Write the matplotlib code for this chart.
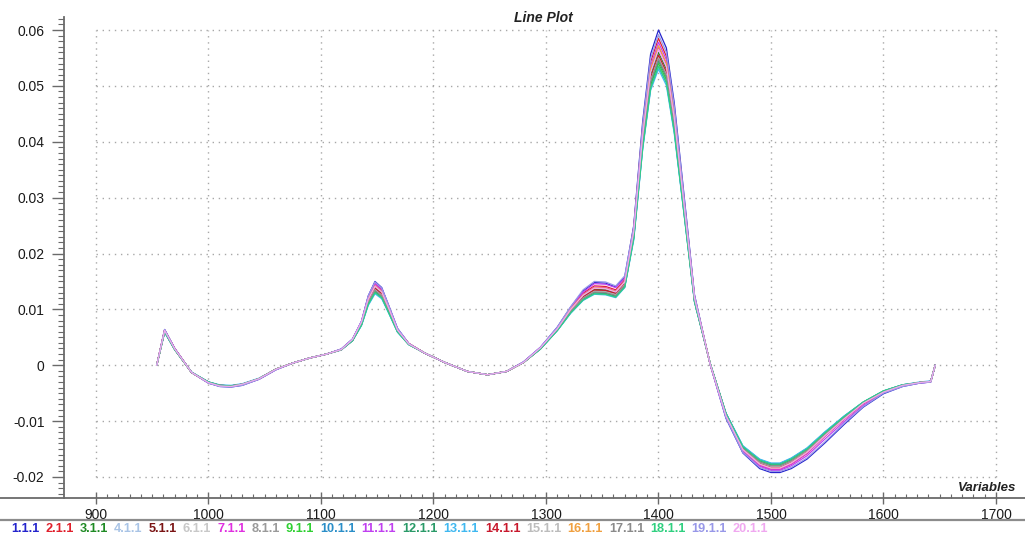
import matplotlib
matplotlib.use("Agg")
import matplotlib.pyplot as plt
from matplotlib.lines import Line2D
from matplotlib.ticker import FixedLocator, MultipleLocator

plt.rcParams['font.family'] = ['Liberation Sans', 'DejaVu Sans']
plt.rcParams['axes.unicode_minus'] = False

# Wavelength grid shared by every spectrum
variables = [954, 961, 970, 985, 1000, 1010, 1020, 1030, 1045, 1060,
             1075, 1090, 1105, 1118, 1128, 1136, 1142, 1148, 1154, 1160,
             1168, 1178, 1192, 1210, 1230, 1248, 1265, 1280, 1295, 1310,
             1322, 1333, 1343, 1353, 1362, 1370, 1378, 1386, 1393, 1400,
             1407, 1414, 1422, 1432, 1446, 1460, 1475, 1490, 1500, 1508,
             1518, 1532, 1548, 1565, 1582, 1600, 1617, 1632, 1642, 1646]

s1 = [0.0000, 0.0064, 0.0030, -0.0013, -0.0032, -0.0038, -0.0039, -0.0036, -0.0025, -0.0008,
      0.0004, 0.0013, 0.0020, 0.0029, 0.0047, 0.0078, 0.0124, 0.0150, 0.0139, 0.0108,
      0.0066, 0.0039, 0.0022, 0.0005, -0.0011, -0.0017, -0.0011, 0.0006, 0.0032, 0.0068,
      0.0104, 0.0133, 0.0148, 0.0147, 0.0140, 0.0158, 0.0250, 0.0437, 0.0557, 0.0600,
      0.0568, 0.0470, 0.0318, 0.0126, 0.0001, -0.0095, -0.0157, -0.0185, -0.0192, -0.0192,
      -0.0185, -0.0168, -0.0139, -0.0106, -0.0075, -0.0051, -0.0038, -0.0032, -0.0030, 0.0000]
s2 = [0.0000, 0.0063, 0.0030, -0.0013, -0.0031, -0.0037, -0.0038, -0.0035, -0.0024, -0.0007,
      0.0004, 0.0013, 0.0020, 0.0028, 0.0046, 0.0077, 0.0122, 0.0146, 0.0135, 0.0106,
      0.0064, 0.0039, 0.0022, 0.0005, -0.0011, -0.0017, -0.0011, 0.0005, 0.0031, 0.0066,
      0.0102, 0.0129, 0.0142, 0.0141, 0.0135, 0.0153, 0.0246, 0.0427, 0.0543, 0.0585,
      0.0553, 0.0458, 0.0310, 0.0123, 0.0002, -0.0090, -0.0153, -0.0179, -0.0186, -0.0186,
      -0.0177, -0.0158, -0.0127, -0.0097, -0.0069, -0.0048, -0.0036, -0.0031, -0.0029, 0.0000]
s3 = [0.0000, 0.0061, 0.0029, -0.0013, -0.0031, -0.0036, -0.0037, -0.0034, -0.0024, -0.0007,
      0.0004, 0.0013, 0.0020, 0.0028, 0.0045, 0.0076, 0.0117, 0.0140, 0.0130, 0.0102,
      0.0063, 0.0038, 0.0022, 0.0005, -0.0011, -0.0017, -0.0011, 0.0005, 0.0030, 0.0064,
      0.0099, 0.0124, 0.0136, 0.0135, 0.0130, 0.0147, 0.0237, 0.0409, 0.0520, 0.0560,
      0.0530, 0.0439, 0.0298, 0.0119, 0.0002, -0.0087, -0.0149, -0.0174, -0.0181, -0.0181,
      -0.0172, -0.0153, -0.0123, -0.0094, -0.0067, -0.0047, -0.0036, -0.0031, -0.0029, 0.0000]
s4 = [0.0000, 0.0060, 0.0028, -0.0013, -0.0030, -0.0036, -0.0037, -0.0034, -0.0024, -0.0007,
      0.0004, 0.0013, 0.0020, 0.0028, 0.0045, 0.0074, 0.0113, 0.0135, 0.0125, 0.0099,
      0.0061, 0.0038, 0.0022, 0.0005, -0.0011, -0.0017, -0.0011, 0.0005, 0.0030, 0.0063,
      0.0097, 0.0120, 0.0132, 0.0131, 0.0126, 0.0143, 0.0231, 0.0398, 0.0506, 0.0545,
      0.0516, 0.0427, 0.0290, 0.0116, 0.0002, -0.0088, -0.0148, -0.0173, -0.0180, -0.0180,
      -0.0171, -0.0152, -0.0123, -0.0094, -0.0067, -0.0047, -0.0036, -0.0031, -0.0029, 0.0000]
s5 = [0.0000, 0.0062, 0.0029, -0.0013, -0.0031, -0.0037, -0.0038, -0.0034, -0.0024, -0.0007,
      0.0004, 0.0013, 0.0020, 0.0028, 0.0045, 0.0074, 0.0114, 0.0136, 0.0126, 0.0099,
      0.0062, 0.0038, 0.0022, 0.0005, -0.0011, -0.0017, -0.0011, 0.0005, 0.0030, 0.0064,
      0.0097, 0.0121, 0.0133, 0.0132, 0.0127, 0.0144, 0.0233, 0.0401, 0.0510, 0.0550,
      0.0520, 0.0431, 0.0292, 0.0117, 0.0002, -0.0090, -0.0149, -0.0175, -0.0182, -0.0182,
      -0.0173, -0.0154, -0.0124, -0.0094, -0.0068, -0.0047, -0.0036, -0.0031, -0.0029, 0.0000]
s6 = [0.0000, 0.0060, 0.0029, -0.0013, -0.0031, -0.0036, -0.0037, -0.0034, -0.0024, -0.0007,
      0.0004, 0.0013, 0.0020, 0.0028, 0.0045, 0.0074, 0.0112, 0.0134, 0.0124, 0.0098,
      0.0061, 0.0038, 0.0022, 0.0005, -0.0011, -0.0017, -0.0011, 0.0005, 0.0030, 0.0064,
      0.0096, 0.0120, 0.0131, 0.0130, 0.0125, 0.0143, 0.0232, 0.0400, 0.0508, 0.0548,
      0.0518, 0.0429, 0.0291, 0.0117, 0.0002, -0.0089, -0.0148, -0.0172, -0.0179, -0.0179,
      -0.0170, -0.0152, -0.0122, -0.0093, -0.0067, -0.0047, -0.0036, -0.0031, -0.0029, 0.0000]
s7 = [0.0000, 0.0063, 0.0030, -0.0013, -0.0031, -0.0037, -0.0038, -0.0035, -0.0024, -0.0007,
      0.0004, 0.0013, 0.0020, 0.0028, 0.0046, 0.0078, 0.0121, 0.0145, 0.0134, 0.0106,
      0.0064, 0.0039, 0.0022, 0.0005, -0.0011, -0.0017, -0.0011, 0.0005, 0.0031, 0.0066,
      0.0101, 0.0127, 0.0140, 0.0139, 0.0133, 0.0151, 0.0241, 0.0416, 0.0529, 0.0570,
      0.0539, 0.0447, 0.0303, 0.0121, 0.0001, -0.0091, -0.0153, -0.0179, -0.0186, -0.0186,
      -0.0177, -0.0158, -0.0127, -0.0097, -0.0069, -0.0048, -0.0037, -0.0031, -0.0029, 0.0000]
s8 = [0.0000, 0.0061, 0.0029, -0.0013, -0.0031, -0.0036, -0.0037, -0.0034, -0.0024, -0.0007,
      0.0004, 0.0013, 0.0020, 0.0028, 0.0045, 0.0074, 0.0114, 0.0136, 0.0126, 0.0099,
      0.0062, 0.0038, 0.0022, 0.0005, -0.0011, -0.0017, -0.0011, 0.0005, 0.0030, 0.0064,
      0.0097, 0.0121, 0.0133, 0.0132, 0.0127, 0.0144, 0.0234, 0.0403, 0.0512, 0.0552,
      0.0522, 0.0433, 0.0293, 0.0117, 0.0002, -0.0088, -0.0148, -0.0173, -0.0180, -0.0180,
      -0.0171, -0.0152, -0.0123, -0.0094, -0.0067, -0.0047, -0.0036, -0.0031, -0.0029, 0.0000]
s9 = [0.0000, 0.0060, 0.0028, -0.0013, -0.0030, -0.0036, -0.0037, -0.0034, -0.0024, -0.0007,
      0.0004, 0.0013, 0.0020, 0.0028, 0.0044, 0.0073, 0.0111, 0.0132, 0.0122, 0.0097,
      0.0060, 0.0037, 0.0022, 0.0005, -0.0011, -0.0017, -0.0011, 0.0005, 0.0029, 0.0063,
      0.0095, 0.0118, 0.0130, 0.0129, 0.0124, 0.0141, 0.0229, 0.0394, 0.0501, 0.0540,
      0.0511, 0.0423, 0.0287, 0.0115, 0.0003, -0.0086, -0.0145, -0.0169, -0.0176, -0.0176,
      -0.0167, -0.0149, -0.0120, -0.0092, -0.0066, -0.0046, -0.0035, -0.0031, -0.0029, 0.0000]
s10 = [0.0000, 0.0059, 0.0028, -0.0013, -0.0030, -0.0036, -0.0037, -0.0034, -0.0024, -0.0007,
       0.0004, 0.0013, 0.0020, 0.0028, 0.0044, 0.0072, 0.0109, 0.0130, 0.0121, 0.0095,
       0.0060, 0.0037, 0.0022, 0.0005, -0.0011, -0.0017, -0.0011, 0.0005, 0.0029, 0.0062,
       0.0094, 0.0117, 0.0129, 0.0128, 0.0123, 0.0140, 0.0227, 0.0390, 0.0496, 0.0535,
       0.0506, 0.0419, 0.0284, 0.0114, 0.0003, -0.0086, -0.0145, -0.0169, -0.0176, -0.0176,
       -0.0167, -0.0149, -0.0120, -0.0091, -0.0066, -0.0046, -0.0035, -0.0031, -0.0029, 0.0000]
s11 = [0.0000, 0.0063, 0.0030, -0.0013, -0.0032, -0.0037, -0.0038, -0.0035, -0.0025, -0.0008,
       0.0004, 0.0013, 0.0020, 0.0029, 0.0046, 0.0079, 0.0123, 0.0148, 0.0137, 0.0107,
       0.0065, 0.0039, 0.0022, 0.0005, -0.0011, -0.0017, -0.0011, 0.0006, 0.0032, 0.0067,
       0.0104, 0.0131, 0.0146, 0.0145, 0.0139, 0.0156, 0.0245, 0.0422, 0.0536, 0.0578,
       0.0547, 0.0453, 0.0307, 0.0123, 0.0001, -0.0093, -0.0155, -0.0181, -0.0188, -0.0188,
       -0.0180, -0.0162, -0.0132, -0.0101, -0.0072, -0.0049, -0.0037, -0.0032, -0.0030, 0.0000]
s12 = [0.0000, 0.0060, 0.0028, -0.0013, -0.0030, -0.0036, -0.0037, -0.0034, -0.0024, -0.0007,
       0.0004, 0.0013, 0.0020, 0.0028, 0.0044, 0.0073, 0.0111, 0.0132, 0.0122, 0.0097,
       0.0061, 0.0038, 0.0022, 0.0005, -0.0011, -0.0017, -0.0011, 0.0005, 0.0030, 0.0063,
       0.0095, 0.0118, 0.0130, 0.0129, 0.0124, 0.0142, 0.0231, 0.0398, 0.0506, 0.0545,
       0.0516, 0.0427, 0.0290, 0.0116, 0.0002, -0.0087, -0.0147, -0.0171, -0.0178, -0.0178,
       -0.0169, -0.0150, -0.0121, -0.0093, -0.0067, -0.0047, -0.0036, -0.0031, -0.0029, 0.0000]
s13 = [0.0000, 0.0059, 0.0028, -0.0012, -0.0030, -0.0035, -0.0036, -0.0033, -0.0023, -0.0007,
       0.0004, 0.0013, 0.0020, 0.0027, 0.0044, 0.0071, 0.0107, 0.0128, 0.0119, 0.0094,
       0.0059, 0.0037, 0.0022, 0.0005, -0.0011, -0.0017, -0.0011, 0.0005, 0.0029, 0.0062,
       0.0093, 0.0116, 0.0127, 0.0126, 0.0121, 0.0139, 0.0224, 0.0387, 0.0492, 0.0530,
       0.0501, 0.0415, 0.0282, 0.0113, 0.0003, -0.0086, -0.0144, -0.0168, -0.0175, -0.0175,
       -0.0166, -0.0148, -0.0119, -0.0091, -0.0066, -0.0046, -0.0035, -0.0030, -0.0028, 0.0000]
s14 = [0.0000, 0.0062, 0.0029, -0.0013, -0.0031, -0.0036, -0.0037, -0.0034, -0.0024, -0.0007,
       0.0004, 0.0013, 0.0020, 0.0028, 0.0045, 0.0075, 0.0116, 0.0138, 0.0128, 0.0101,
       0.0062, 0.0038, 0.0022, 0.0005, -0.0011, -0.0017, -0.0011, 0.0005, 0.0030, 0.0064,
       0.0099, 0.0123, 0.0135, 0.0134, 0.0129, 0.0146, 0.0235, 0.0405, 0.0515, 0.0555,
       0.0525, 0.0435, 0.0295, 0.0118, 0.0002, -0.0089, -0.0150, -0.0176, -0.0183, -0.0183,
       -0.0174, -0.0155, -0.0125, -0.0095, -0.0068, -0.0047, -0.0036, -0.0031, -0.0029, 0.0000]
s15 = [0.0000, 0.0061, 0.0029, -0.0013, -0.0031, -0.0036, -0.0037, -0.0034, -0.0024, -0.0007,
       0.0004, 0.0013, 0.0020, 0.0028, 0.0045, 0.0074, 0.0113, 0.0135, 0.0125, 0.0099,
       0.0062, 0.0038, 0.0022, 0.0005, -0.0011, -0.0017, -0.0011, 0.0005, 0.0030, 0.0064,
       0.0097, 0.0120, 0.0132, 0.0131, 0.0126, 0.0144, 0.0233, 0.0401, 0.0510, 0.0550,
       0.0520, 0.0431, 0.0292, 0.0117, 0.0002, -0.0089, -0.0149, -0.0174, -0.0181, -0.0181,
       -0.0172, -0.0153, -0.0124, -0.0094, -0.0067, -0.0047, -0.0036, -0.0031, -0.0029, 0.0000]
s16 = [0.0000, 0.0062, 0.0029, -0.0013, -0.0031, -0.0037, -0.0038, -0.0035, -0.0024, -0.0007,
       0.0004, 0.0013, 0.0020, 0.0028, 0.0046, 0.0077, 0.0119, 0.0142, 0.0132, 0.0104,
       0.0063, 0.0039, 0.0022, 0.0005, -0.0011, -0.0017, -0.0011, 0.0005, 0.0031, 0.0066,
       0.0101, 0.0126, 0.0139, 0.0138, 0.0132, 0.0150, 0.0242, 0.0417, 0.0531, 0.0572,
       0.0541, 0.0448, 0.0304, 0.0122, 0.0002, -0.0090, -0.0151, -0.0177, -0.0184, -0.0184,
       -0.0175, -0.0156, -0.0126, -0.0096, -0.0068, -0.0048, -0.0036, -0.0031, -0.0029, 0.0000]
s17 = [0.0000, 0.0061, 0.0029, -0.0013, -0.0031, -0.0036, -0.0037, -0.0034, -0.0024, -0.0007,
       0.0004, 0.0013, 0.0020, 0.0028, 0.0045, 0.0074, 0.0112, 0.0134, 0.0124, 0.0098,
       0.0061, 0.0038, 0.0022, 0.0005, -0.0011, -0.0017, -0.0011, 0.0005, 0.0030, 0.0064,
       0.0096, 0.0120, 0.0131, 0.0130, 0.0125, 0.0143, 0.0232, 0.0400, 0.0508, 0.0548,
       0.0518, 0.0429, 0.0291, 0.0117, 0.0002, -0.0088, -0.0148, -0.0173, -0.0180, -0.0180,
       -0.0171, -0.0152, -0.0123, -0.0094, -0.0067, -0.0047, -0.0036, -0.0031, -0.0029, 0.0000]
s18 = [0.0000, 0.0060, 0.0028, -0.0013, -0.0030, -0.0036, -0.0037, -0.0034, -0.0024, -0.0007,
       0.0004, 0.0013, 0.0020, 0.0028, 0.0044, 0.0072, 0.0109, 0.0130, 0.0121, 0.0095,
       0.0060, 0.0037, 0.0022, 0.0005, -0.0011, -0.0017, -0.0011, 0.0005, 0.0029, 0.0062,
       0.0094, 0.0117, 0.0128, 0.0127, 0.0122, 0.0140, 0.0227, 0.0390, 0.0496, 0.0535,
       0.0506, 0.0419, 0.0284, 0.0114, 0.0003, -0.0087, -0.0146, -0.0170, -0.0177, -0.0177,
       -0.0168, -0.0150, -0.0121, -0.0092, -0.0066, -0.0046, -0.0035, -0.0031, -0.0029, 0.0000]
s19 = [0.0000, 0.0064, 0.0030, -0.0013, -0.0032, -0.0038, -0.0039, -0.0036, -0.0025, -0.0008,
       0.0004, 0.0013, 0.0020, 0.0029, 0.0047, 0.0079, 0.0124, 0.0149, 0.0138, 0.0108,
       0.0066, 0.0039, 0.0022, 0.0005, -0.0011, -0.0017, -0.0011, 0.0006, 0.0032, 0.0068,
       0.0105, 0.0135, 0.0150, 0.0149, 0.0142, 0.0160, 0.0248, 0.0432, 0.0549, 0.0592,
       0.0560, 0.0464, 0.0315, 0.0126, 0.0001, -0.0094, -0.0156, -0.0183, -0.0190, -0.0190,
       -0.0183, -0.0166, -0.0137, -0.0104, -0.0074, -0.0050, -0.0038, -0.0032, -0.0030, 0.0000]
s20 = [0.0000, 0.0062, 0.0029, -0.0013, -0.0031, -0.0037, -0.0038, -0.0034, -0.0024, -0.0007,
       0.0004, 0.0013, 0.0020, 0.0028, 0.0046, 0.0077, 0.0118, 0.0141, 0.0131, 0.0103,
       0.0063, 0.0038, 0.0022, 0.0005, -0.0011, -0.0017, -0.0011, 0.0005, 0.0031, 0.0065,
       0.0100, 0.0125, 0.0138, 0.0137, 0.0131, 0.0149, 0.0239, 0.0412, 0.0524, 0.0565,
       0.0534, 0.0443, 0.0300, 0.0120, 0.0002, -0.0090, -0.0151, -0.0177, -0.0184, -0.0184,
       -0.0175, -0.0156, -0.0126, -0.0096, -0.0068, -0.0048, -0.0036, -0.0031, -0.0029, 0.0000]

sample_names = ["1.1.1", "2.1.1", "3.1.1", "4.1.1", "5.1.1", "6.1.1", "7.1.1",
                "8.1.1", "9.1.1", "10.1.1", "11.1.1", "12.1.1", "13.1.1", "14.1.1",
                "15.1.1", "16.1.1", "17.1.1", "18.1.1", "19.1.1", "20.1.1"]
sample_colors = ["#2424cc", "#e0202c", "#1f8a24", "#a9c4e6", "#7a1414", "#c8c8c8",
                 "#e030e0", "#9a9a9a", "#2fd032", "#2a8ec8", "#c040f0", "#2a9a68",
                 "#40b8f0", "#c8182c", "#bcbcbc", "#f0a040", "#8a8a8a", "#30d080",
                 "#9898e8", "#f0a8f0"]
spectra = [s1, s2, s3, s4, s5, s6, s7, s8, s9, s10,
           s11, s12, s13, s14, s15, s16, s17, s18, s19, s20]

x_ticks = [900, 1000, 1100, 1200, 1300, 1400, 1500, 1600, 1700]
y_ticks = [-0.02, -0.01, 0.0, 0.01, 0.02, 0.03, 0.04, 0.05, 0.06]
y_tick_labels = ["-0.02", "-0.01", "0", "0.01", "0.02", "0.03", "0.04", "0.05", "0.06"]

W, H = 1025, 541
fig = plt.figure(figsize=(W / 100, H / 100), dpi=100)
fig.patch.set_facecolor("white")

ax_left, ax_right, ax_top, ax_bottom = 64, 1025, 17, 498
ax = fig.add_axes([ax_left / W, 1 - ax_bottom / H,
                   (ax_right - ax_left) / W, (ax_bottom - ax_top) / H])
ax.set_xlim(871.56, 1725.8)
ax.set_ylim(-0.02376, 0.06233)

for s in ("top", "right", "bottom"):
    ax.spines[s].set_visible(False)
ax.spines["left"].set_color("#6a6a6a")
ax.spines["left"].set_linewidth(1.3)

# Dotted grid limited to the labelled range
grid_style = dict(color="#a8a8a8", linewidth=1.0, linestyle=(0, (1.0, 3.4)), zorder=0)
ax.hlines(y_ticks, x_ticks[0], x_ticks[-1], **grid_style)
ax.vlines(x_ticks, y_ticks[0], y_ticks[-1], **grid_style)

for vals, col in zip(spectra, sample_colors):
    ax.plot(variables, vals, color=col, linewidth=0.9, zorder=2,
            solid_joinstyle="round")

# Ticks
ax.xaxis.set_major_locator(FixedLocator(x_ticks))
ax.xaxis.set_minor_locator(FixedLocator(list(range(900, 1701, 10))))
ax.yaxis.set_major_locator(FixedLocator(y_ticks))
ax.yaxis.set_minor_locator(MultipleLocator(0.001))
ax.set_yticklabels(y_tick_labels)
ax.set_xticklabels([str(v) for v in x_ticks])
ax.tick_params(axis="x", which="major", direction="inout", length=8, width=1.0,
               color="#6a6a6a", labelsize=10, labelcolor="#1a1a1a", pad=3)
ax.tick_params(axis="x", which="minor", direction="in", length=3, width=0.8, color="#6a6a6a")
ax.tick_params(axis="y", which="major", direction="out", length=9, width=1.0,
               color="#6a6a6a", labelsize=10, labelcolor="#1a1a1a", pad=5)
ax.tick_params(axis="y", which="minor", direction="out", length=4.5, width=0.8, color="#6a6a6a")

# Horizontal axis line across the full width, and the separator above the sample key
fig.add_artist(Line2D([0, 1], [1 - ax_bottom / H] * 2, color="#6a6a6a", linewidth=1.3))
fig.add_artist(Line2D([0, 1], [1 - 520 / H] * 2, color="#8c8c8c", linewidth=1.6))

fig.text(543 / W, 1 - 18 / H, "Line Plot", ha="center", va="center",
         fontsize=10, fontstyle="italic", fontweight="bold", color="#222222")
fig.text(1016 / W, 1 - 488 / H, "Variables", ha="right", va="center",
         fontsize=9.5, fontstyle="italic", fontweight="bold", color="#222222")

# Coloured sample key along the bottom edge
fig.canvas.draw()
renderer = fig.canvas.get_renderer()
x_px = 11
for name, col in zip(sample_names, sample_colors):
    t = fig.text(x_px / W, 1 - 529 / H, name, ha="left", va="center",
                 fontsize=9.2, fontweight="bold", color=col)
    bb = t.get_window_extent(renderer=renderer)
    x_px += bb.width + 6

fig.savefig("out.png", dpi=100, facecolor="white")
